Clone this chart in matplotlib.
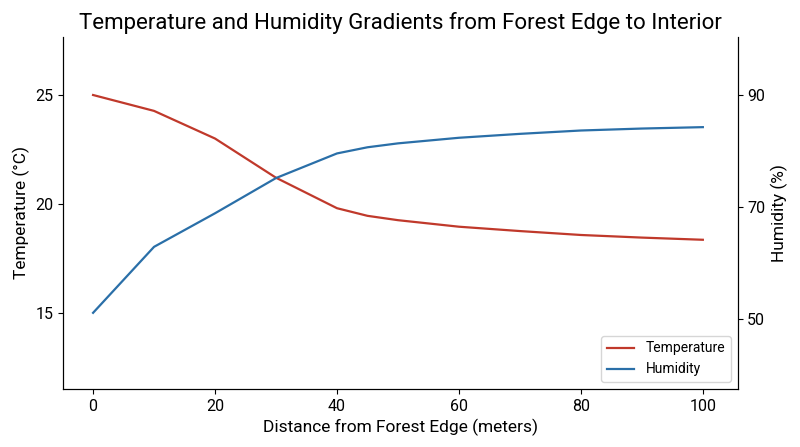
import matplotlib
matplotlib.use("Agg")
import matplotlib.pyplot as plt

distance = [0, 10, 20, 30, 40, 45, 50, 60, 70, 80, 90, 100]
temperature = [25.0, 24.27, 23.0, 21.2, 19.8, 19.45, 19.25, 18.95, 18.75, 18.57, 18.45, 18.35]
humidity = [51.1, 62.9, 68.9, 75.2, 79.6, 80.7, 81.4, 82.4, 83.1, 83.7, 84.05, 84.3]

plt.rcParams['font.family'] = ['Roboto', 'DejaVu Sans']
fig, ax = plt.subplots(figsize=(8, 4.47), dpi=100)
fig.subplots_adjust(left=0.079, right=0.922, top=0.917, bottom=0.13)
l1, = ax.plot(distance, temperature, color='#c0392b', lw=1.6, label='Temperature')
ax2 = ax.twinx()
l2, = ax2.plot(distance, humidity, color='#2a6fa8', lw=1.6, label='Humidity')
ax.set_xlim(-4.9, 105.7)
ax.set_ylim(11.5, 27.66)
ax2.set_ylim(37.5, 100.4)
ax.set_yticks([15, 20, 25])
ax2.set_yticks([50, 70, 90])
ax.set_xlabel('Distance from Forest Edge (meters)', fontsize=12.5)
ax.set_ylabel('Temperature (°C)', fontsize=12.5)
ax2.set_ylabel('Humidity (%)', fontsize=12.5)
ax.set_title('Temperature and Humidity Gradients from Forest Edge to Interior', fontsize=16)
for a in (ax, ax2):
    a.spines['top'].set_visible(False)
    a.tick_params(labelsize=11.5)
ax2.legend([l1, l2], ['Temperature', 'Humidity'], loc='lower right', fontsize=10)
fig.savefig('out.png', dpi=100)
